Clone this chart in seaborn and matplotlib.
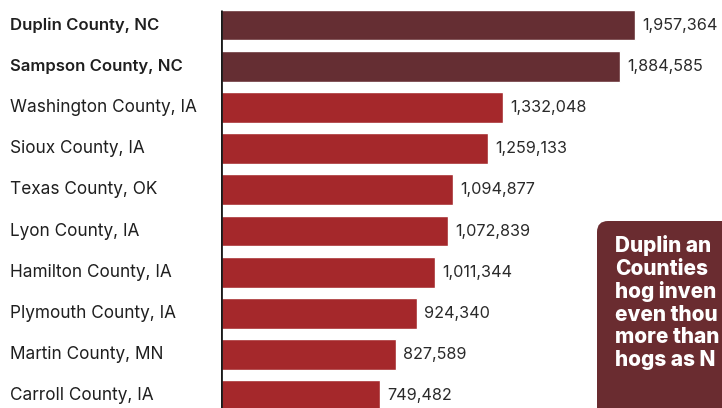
import pandas as pd
import matplotlib.pyplot as plt
import seaborn as sns
from matplotlib.patches import FancyBboxPatch
from matplotlib.transforms import IdentityTransform, blended_transform_factory

# Data
counties = ["Duplin County, NC", "Sampson County, NC", "Washington County, IA",
            "Sioux County, IA", "Texas County, OK", "Lyon County, IA",
            "Hamilton County, IA", "Plymouth County, IA", "Martin County, MN",
            "Carroll County, IA"]
hogs = [1957364, 1884585, 1332048, 1259133, 1094877, 1072839,
        1011344, 924340, 827589, 749482]
group = ["NC", "NC", "other", "other", "other", "other",
         "other", "other", "other", "other"]
# the callout is cut off by the edge of the picture; only its visible part
note = "Duplin an\nCounties\nhog inven\neven thou\nmore than\nhogs as N"

df = pd.DataFrame({"county": counties, "hogs": hogs, "group": group})

sns.set_style("white")
plt.rcParams["font.family"] = ["Inter", "DejaVu Sans"]

W, H = 722, 408
fig = plt.figure(figsize=(W / 100, H / 100), dpi=100)
ax = fig.add_axes([221 / W, 0, 1 - 221 / W, 1])

palette = {"NC": "#652e33", "other": "#a5282b"}
sns.barplot(data=df, y="county", x="hogs", hue="group", palette=palette,
            dodge=False, legend=False, width=0.75, saturation=1, ax=ax)

# 211.7 px per million hogs, rows 41.2 px apart, first centred 25 px from top
ax.set_xlim(0, (W - 221) / 211.7 * 1e6)
ax.set_ylim(-0.607 + H / 41.2, -0.607)
ax.set_xlabel("")
ax.set_ylabel("")
ax.set_xticks([])
ax.set_yticks([])
for s in ax.spines.values():
    s.set_visible(False)
ax.vlines(0, -0.375, 10, color="#1a1a1a", linewidth=2)

# County labels on the left, value labels after each bar
trans = blended_transform_factory(fig.transFigure, ax.transData)
for i, (c, v) in enumerate(zip(counties, hogs)):
    bold = group[i] == "NC"
    ax.text(10 / W, i, c, transform=trans, ha="left", va="center",
            fontsize=12.0 if bold else 12.4, color="#1f1f1f",
            fontweight="semibold" if bold else "normal")
    ax.text(v + 34000, i, f"{v:,}", ha="left", va="center",
            fontsize=11.7, color="#2a2a2a")

# Callout box, cut off by the right and bottom edges
box = FancyBboxPatch((597, -60), 300, 247, boxstyle="round,pad=0,rounding_size=11",
                     transform=IdentityTransform(), facecolor="#6a2c30",
                     edgecolor="none", zorder=5)
fig.patches.append(box)
fig.text(615 / W, 1 - 235 / H, note, ha="left", va="top", color="white",
         fontsize=15, fontweight="heavy", linespacing=1.16, zorder=6)

fig.savefig("out.png", dpi=100)
